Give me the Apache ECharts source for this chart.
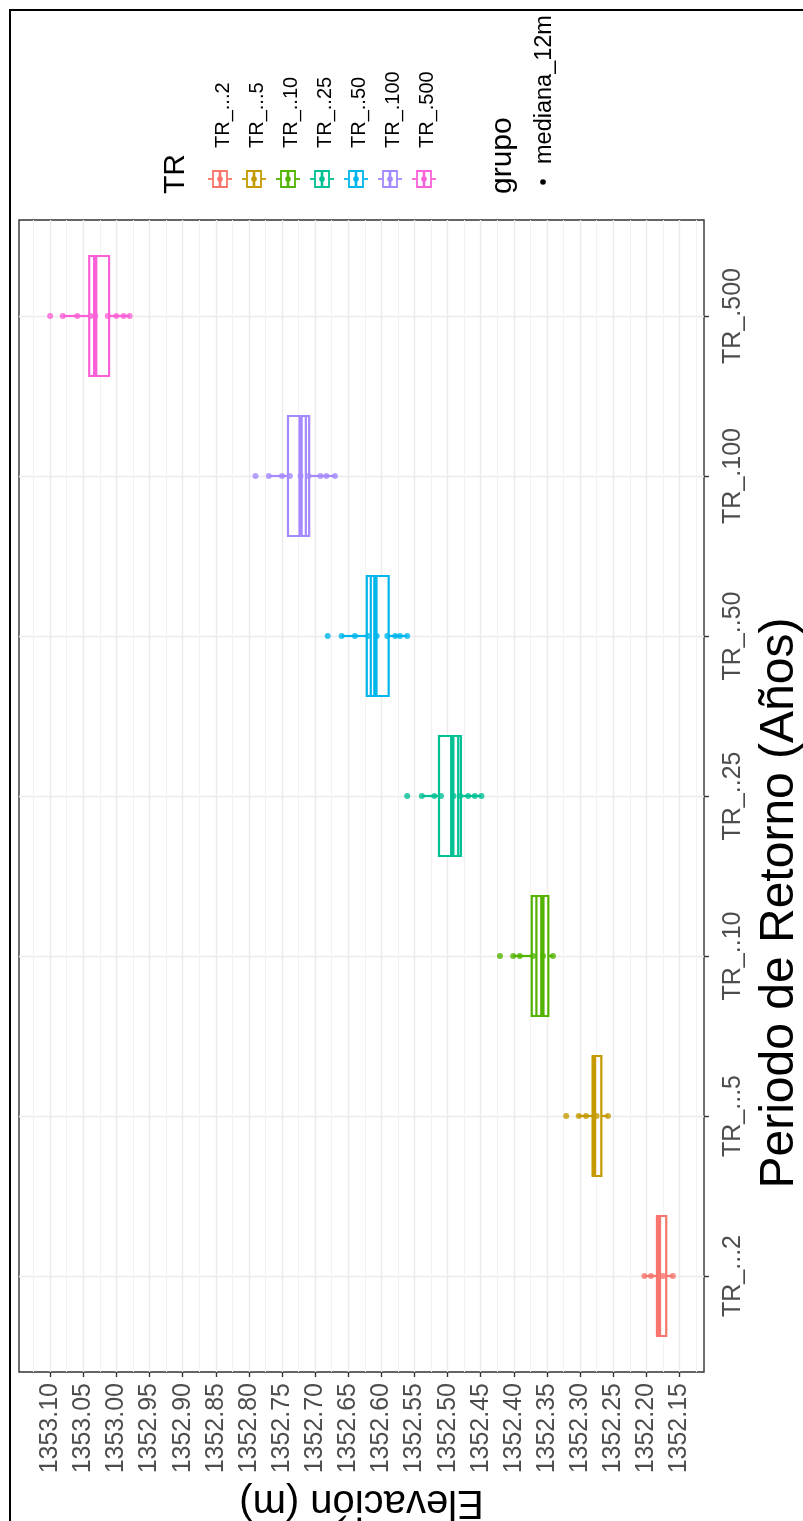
<!DOCTYPE html>
<html>
<head>
<meta charset="utf-8">
<script src="https://cdn.jsdelivr.net/npm/echarts@6.0.0/dist/echarts.min.js"></script>
<style>
html,body{margin:0;padding:0;background:#fff;}
#chart{width:803px;height:1521px;}
</style>
</head>
<body>
<div id="chart"></div>
<script>
// ---------------- data ----------------
const categories = ['TR_...2','TR_...5','TR_..10','TR_..25','TR_..50','TR_.100','TR_.500'];
const colors = ['#F8766D','#C49A00','#53B400','#00C094','#00B6EB','#A58AFF','#FB61D7'];

// elevation tick labels (major) and minor grid values
const elevTicks = [1352.15,1352.20,1352.25,1352.30,1352.35,1352.40,1352.45,1352.50,1352.55,1352.60,
                   1352.65,1352.70,1352.75,1352.80,1352.85,1352.90,1352.95,1353.00,1353.05,1353.10];
const elevMinor = [1352.125,1352.175,1352.225,1352.275,1352.325,1352.375,1352.425,1352.475,1352.525,1352.575,
                   1352.625,1352.675,1352.725,1352.775,1352.825,1352.875,1352.925,1352.975,1353.025,1353.075,1353.125];
const elevMin = 1352.113, elevMax = 1353.147;

// points "mediana_12m" per TR
const pts_TR2   = [1352.203,1352.193,1352.175,1352.160];
const pts_TR5   = [1352.321,1352.302,1352.291,1352.275,1352.258];
const pts_TR10  = [1352.421,1352.401,1352.391,1352.371,1352.356,1352.341];
const pts_TR25  = [1352.561,1352.539,1352.520,1352.510,1352.491,1352.481,1352.469,1352.459,1352.449];
const pts_TR50  = [1352.681,1352.660,1352.640,1352.620,1352.607,1352.591,1352.579,1352.572,1352.561];
const pts_TR100 = [1352.790,1352.770,1352.750,1352.738,1352.722,1352.710,1352.692,1352.683,1352.670];
const pts_TR500 = [1353.100,1353.081,1353.059,1353.039,1353.032,1353.013,1353.000,1352.989,1352.980];
const pointsByTR = [pts_TR2,pts_TR5,pts_TR10,pts_TR25,pts_TR50,pts_TR100,pts_TR500];

// boxplot statistics per TR
const whiskerLow  = [1352.160,1352.258,1352.341,1352.449,1352.561,1352.670,1352.980];
const q1          = [1352.170,1352.268,1352.348,1352.480,1352.589,1352.709,1353.011];
const median      = [1352.181,1352.279,1352.357,1352.493,1352.609,1352.722,1353.032];
const q3          = [1352.184,1352.281,1352.373,1352.513,1352.622,1352.741,1353.041];
const whiskerHigh = [1352.203,1352.302,1352.401,1352.539,1352.660,1352.770,1353.081];
// edge of a second overlapping box (thin inner line)
const innerLine   = [null,null,1352.366,1352.484,1352.616,1352.714,null];

// ---------------- chart ----------------
const FONT = '"Liberation Sans", Arial, sans-serif';
const chart = echarts.init(document.getElementById('chart'), null, {renderer:'canvas'});

const boxData = categories.map((c,i)=>[i+1, whiskerLow[i], q1[i], median[i], q3[i], whiskerHigh[i]]);
const scatterData = [];
pointsByTR.forEach((arr,i)=>arr.forEach(v=>scatterData.push({value:[v,i+1], itemStyle:{color:colors[i]}})));

function renderBox(params, api){
  const i = params.dataIndex;
  const cat = api.value(0);
  const color = colors[i];
  const half = api.size([0, 0.75])[1] / 2;
  const pLo = api.coord([api.value(1), cat]);
  const pQ1 = api.coord([api.value(2), cat]);
  const pMed = api.coord([api.value(3), cat]);
  const pQ3 = api.coord([api.value(4), cat]);
  const pHi = api.coord([api.value(5), cat]);
  const cy = pLo[1];
  const lw = 2.2;
  const children = [
    {type:'line', shape:{x1:pLo[0],y1:cy,x2:pQ1[0],y2:cy}, style:{stroke:color,lineWidth:lw}},
    {type:'line', shape:{x1:pQ3[0],y1:cy,x2:pHi[0],y2:cy}, style:{stroke:color,lineWidth:lw}},
    {type:'rect', shape:{x:Math.min(pQ1[0],pQ3[0]), y:cy-half, width:Math.abs(pQ1[0]-pQ3[0]), height:2*half},
      style:{stroke:color, fill:'#ffffff', lineWidth:lw}},
    {type:'line', shape:{x1:pMed[0],y1:cy-half,x2:pMed[0],y2:cy+half}, style:{stroke:color,lineWidth:4.4}}
  ];
  if (innerLine[i] != null){
    const pE = api.coord([innerLine[i], cat]);
    children.push({type:'line', shape:{x1:pE[0],y1:cy-half,x2:pE[0],y2:cy+half}, style:{stroke:color,lineWidth:lw}});
  }
  return {type:'group', children};
}

// legend drawn as rotated graphics (the whole plot is rotated 90°)
const legendEls = [];
const ROT = Math.PI/2;
legendEls.push({type:'text', x:176, y:194, rotation:ROT,
  style:{text:'TR', font:'30px '+FONT, fill:'#000', align:'left', verticalAlign:'middle'}});
const keyX0 = 220, keyStep = 34, keyY = 179;
categories.forEach((c,i)=>{
  const cx = keyX0 + i*keyStep;
  const col = colors[i];
  legendEls.push({type:'line', shape:{x1:cx-12,y1:keyY,x2:cx+12,y2:keyY}, style:{stroke:col,lineWidth:1.8}});
  legendEls.push({type:'rect', shape:{x:cx-7,y:keyY-8,width:14,height:16}, style:{stroke:col,fill:'#fff',lineWidth:1.8}});
  legendEls.push({type:'line', shape:{x1:cx,y1:keyY-8,x2:cx,y2:keyY+8}, style:{stroke:col,lineWidth:2.6}});
  legendEls.push({type:'circle', shape:{cx:cx,cy:keyY,r:2.8}, style:{fill:col}});
  legendEls.push({type:'text', x:cx+3, y:148, rotation:ROT,
    style:{text:c, font:'20px '+FONT, fill:'#000', align:'left', verticalAlign:'middle'}});
});
legendEls.push({type:'text', x:503, y:194, rotation:ROT,
  style:{text:'grupo', font:'30px '+FONT, fill:'#000', align:'left', verticalAlign:'middle'}});
legendEls.push({type:'circle', shape:{cx:543,cy:182,r:2.8}, style:{fill:'#000'}});
legendEls.push({type:'text', x:545, y:164, rotation:ROT,
  style:{text:'mediana_12m', font:'23.5px '+FONT, fill:'#000', align:'left', verticalAlign:'middle'}});
// outer frame
legendEls.push({type:'polyline', shape:{points:[[10,1521],[10,10],[803,10]]}, style:{stroke:'#000',lineWidth:2,fill:null}});

const option = {
  backgroundColor:'#ffffff',
  animation:false,
  grid:{left:19, right:99, top:220, bottom:149, show:true, backgroundColor:'#ffffff',
        borderColor:'#333333', borderWidth:1.4, containLabel:false, outerBoundsMode:'none'},
  xAxis:[{
    type:'value', inverse:true, min:elevMin, max:elevMax, position:'bottom',
    axisLine:{show:false},
    axisTick:{show:true, customValues:elevTicks, length:5, lineStyle:{color:'#333333',width:1.4}},
    axisLabel:{show:true, customValues:elevTicks, rotate:90, margin:11, fontSize:25, fontFamily:FONT, color:'#4D4D4D',
               formatter:v=>Number(v).toFixed(2)},
    splitLine:{show:true, lineStyle:{color:'#EBEBEB', width:1.4}},
    name:'Elevación (m)', nameLocation:'middle', nameRotate:180, nameGap:110, nameMoveOverlap:false,
    nameTextStyle:{fontSize:40, fontFamily:FONT, color:'#000'}
  },{
    type:'value', inverse:true, min:elevMin, max:elevMax, position:'top',
    axisLine:{show:false}, axisLabel:{show:false},
    axisTick:{show:false, customValues:elevMinor},
    splitLine:{show:true, lineStyle:{color:'#F2F2F2', width:1}}
  }],
  yAxis:[{
    type:'value', min:0.4, max:7.6, position:'right',
    axisLine:{show:false},
    axisTick:{show:true, customValues:[1,2,3,4,5,6,7], length:5, lineStyle:{color:'#333333',width:1.4}},
    axisLabel:{show:true, customValues:[1,2,3,4,5,6,7], rotate:90, margin:17, fontSize:25, fontFamily:FONT, color:'#4D4D4D',
               formatter:v=>categories[Math.round(v)-1]},
    splitLine:{show:true, lineStyle:{color:'#EBEBEB', width:1.4}},
    name:'Periodo de Retorno (Años)', nameLocation:'middle', nameRotate:90, nameGap:52,
    nameTextStyle:{fontSize:48, fontFamily:FONT, color:'#000', padding:[0,214,0,0]}
  }],
  series:[{
    type:'custom', xAxisIndex:0, yAxisIndex:0, renderItem:renderBox,
    encode:{x:[1,2,3,4,5], y:0}, data:boxData, z:2, silent:true
  },{
    type:'scatter', xAxisIndex:0, yAxisIndex:0, symbol:'circle', symbolSize:6,
    data:scatterData, z:3, silent:true
  }],
  graphic:legendEls
};
chart.setOption(option);
</script>
</body>
</html>
